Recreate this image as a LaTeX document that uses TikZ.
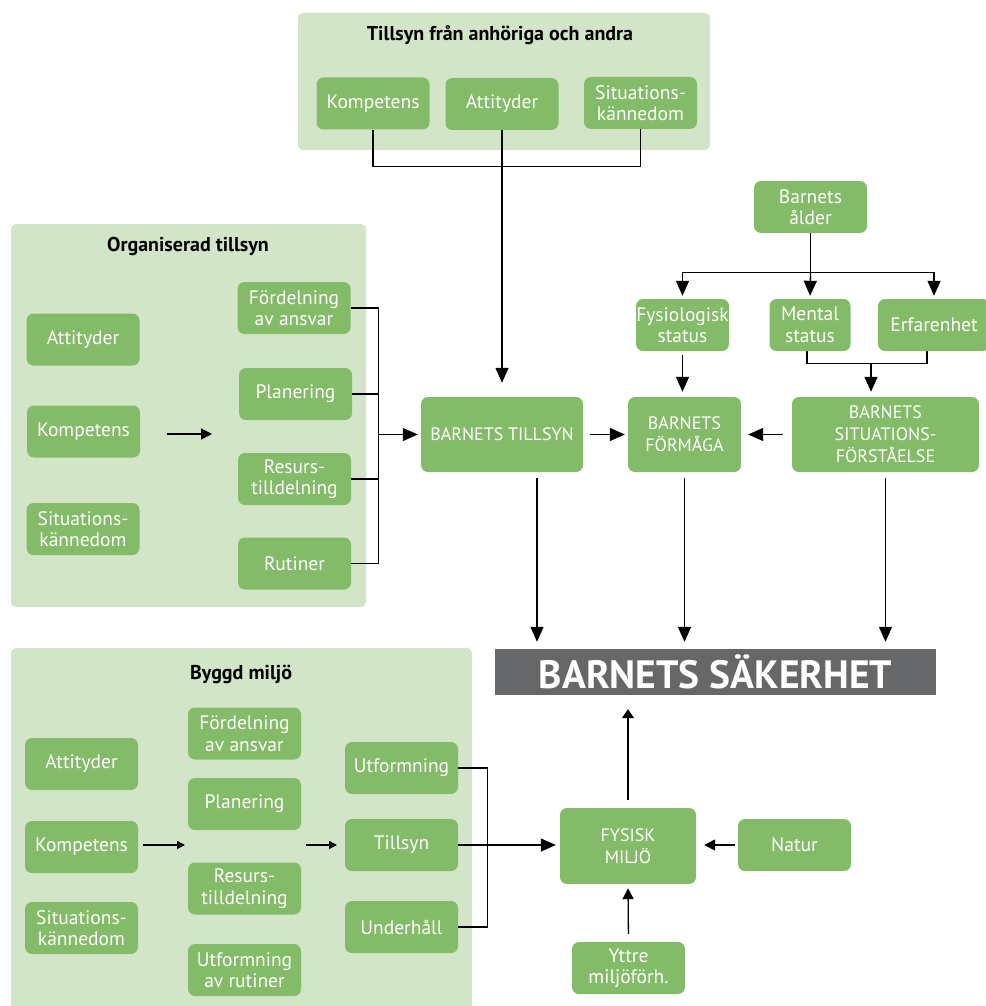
\documentclass[tikz,border=0pt]{standalone}
\usepackage{fontspec}
\setmainfont{PT Sans}
\usetikzlibrary{arrows.meta}
\definecolor{panelg}{HTML}{D2E5C8}
\definecolor{boxg}{HTML}{84BB68}
\definecolor{barg}{HTML}{666768}
\begin{document}
\begin{tikzpicture}[x=1pt,y=-1pt,
 panel/.style={fill=panelg, rounded corners=5pt, inner sep=0pt},
 box/.style={fill=boxg, rounded corners=7pt, text=white, align=center, inner sep=0pt,
   minimum width=113pt, minimum height=52pt, font=\fontsize{19.5}{21.5}\selectfont},
 capbox/.style={box, font=\fontsize{18}{22}\selectfont},
 ptitle/.style={font=\bfseries\fontsize{20}{22}\selectfont},
 ln/.style={line width=1.3pt},
 big/.style={ln, -{Triangle[length=15pt,width=13pt]}},
 mid/.style={ln, -{Triangle[length=11pt,width=11pt]}},
 sm/.style={ln, -{Triangle[length=8pt,width=8pt]}},
]
\useasboundingbox (0,0) rectangle (985,1006);

% panels
\fill[panelg, rounded corners=5pt] (298,13) rectangle (710,150);
\fill[panelg, rounded corners=5pt] (11,224) rectangle (366,607);
\fill[panelg, rounded corners=5pt] (11,648) rectangle (472,1020);

% top panel
\node[ptitle] (ttitle) at (500,35) {Tillsyn från anhöriga och andra};
\node[box] (tk) at (373,103.5) {Kompetens};
\node[box] (ta) at (502,104) {Attityder};
\node[box] (ts) at (640.5,103) {Situations-\\kännedom};

% left panel
\node[ptitle] (otitle) at (188,246) {Organiserad tillsyn};
\node[box] (oa) at (83,339.5) {Attityder};
\node[box] (ok) at (83.5,431.5) {Kompetens};
\node[box] (os) at (83,529) {Situations-\\kännedom};
\node[box] (of) at (294,308) {Fördelning\\av ansvar};
\node[box] (op) at (295.5,394) {Planering};
\node[box] (ores) at (294.5,479) {Resurs-\\tilldelning};
\node[box] (ort) at (294.5,563.5) {Rutiner};
\coordinate (la1) at (167,434);
\coordinate (la2) at (212,434);

% centre row
\node[capbox, minimum width=162pt, minimum height=75pt] (tillsyn) at (502,434.5) {BARNETS TILLSYN};
\node[capbox, minimum width=113pt, minimum height=75pt] (formaga) at (684.5,434.5) {BARNETS\\FÖRMÅGA};
\node[capbox, minimum width=187pt, minimum height=75pt] (situ) at (885.5,434.5) {BARNETS\\SITUATIONS-\\FÖRSTÅELSE};

% right top
\node[box] (alder) at (810.5,207) {Barnets\\ålder};
\node[box, minimum width=93pt] (fys) at (682.5,325) {Fysiologisk\\status};
\node[box, minimum width=81pt] (mental) at (810,325) {Mental\\status};
\node[box, minimum width=112pt] (erf) at (934,325) {Erfarenhet};

% safety bar
\node[fill=barg, minimum width=441pt, minimum height=46pt, inner sep=0pt, text=white,
  font=\bfseries\fontsize{39.5}{42}\selectfont] (sak) at (715.5,672) {BARNETS SÄKERHET};

% physical env
\node[capbox, minimum width=136pt, minimum height=76pt] (fysisk) at (628,846) {FYSISK\\MILJÖ};
\node[box] (natur) at (794.5,845) {Natur};
\node[box] (yttre) at (628.5,968) {Yttre\\miljöförh.};

% bottom panel
\node[ptitle] (btitle) at (241,674) {Byggd miljö};
\node[box] (ba) at (81.5,764) {Attityder};
\node[box] (bk) at (81.5,847) {Kompetens};
\node[box] (bs) at (81.5,928) {Situations-\\kännedom};
\node[box] (bf) at (244.5,733.5) {Fördelning\\av ansvar};
\node[box] (bp) at (244.5,804) {Planering};
\node[box] (br) at (244.5,888.5) {Resurs-\\tilldelning};
\node[box] (bu) at (244.5,970) {Utformning\\av rutiner};
\node[box] (bU) at (401.5,768) {Utformning};
\node[box] (bT) at (401.5,845) {Tillsyn};
\node[box] (bH) at (401.5,927) {Underhåll};
\coordinate (ba1) at (143,845);
\coordinate (ba2) at (185,845);
\coordinate (ba3) at (306,845);
\coordinate (ba4) at (337,845);

% connectors: top panel
\draw[ln] (tk.south) -- ++(0,36.5) -| (ts.south);
\draw[big, shorten >=14pt] (ta.south) -- (ta.south |- tillsyn.north);

% connectors: left panel
\draw[mid] (la1) -- (la2);
\draw[ln] (of.east) -- ++(28,0) coordinate (ob) |- (ort.east);
\draw[ln] (op.east) -- (op.east -| ob);
\draw[ln] (ores.east) -- (ores.east -| ob);
\draw[big, shorten >=3pt] (ob |- tillsyn.west) -- (tillsyn.west);

% centre row
\draw[big, shorten <=7pt, shorten >=3pt] (tillsyn.east) -- (formaga.west);
\draw[big, shorten <=9pt, shorten >=7pt] (situ.west) -- (formaga.east);

% age
\draw[ln] (alder.south) -- ++(0,39) coordinate (aj);
\draw[big, shorten >=3pt] (aj) -| (fys.north);
\draw[big, shorten >=3pt] (aj) -| (erf.north);
\draw[big, shorten >=3pt] (aj) -- (mental.north);
\draw[big, shorten <=4pt, shorten >=5pt] (fys.south) -- (fys.south |- formaga.north);
\draw[ln] ([xshift=-3pt]mental.south) -- ++(0,12) coordinate (mj0) -| ([xshift=-7pt]erf.south);
\coordinate (mj) at (871,363);
\draw[big, shorten >=5pt] (mj) -- (mj |- situ.north);

% into safety
\draw[big, shorten <=6pt, shorten >=7pt] ([xshift=35pt]tillsyn.south) -- ([xshift=35pt]tillsyn.south |- sak.north);
\draw[big, shorten <=6pt, shorten >=7pt] (formaga.south) -- (formaga.south |- sak.north);
\draw[big, shorten <=6pt, shorten >=7pt] (situ.south) -- (situ.south |- sak.north);

% physical environment
\draw[ln, -{Triangle[length=9pt,width=12pt]}, shorten <=8pt, shorten >=14pt] (fysisk.north) -- (fysisk.north |- sak.south);
\draw[mid, shorten <=3pt, shorten >=8pt] (natur.west) -- (natur.west -| fysisk.east);
\draw[mid, shorten <=8pt, shorten >=4pt] (yttre.north) -- (fysisk.south);

% bottom panel
\draw[sm] (ba1) -- (ba2);
\draw[sm] (ba3) -- (ba4);
\draw[ln] (bU.east) -- ++(29,0) coordinate (bb) |- (bH.east);
\draw[big, shorten >=4pt] (bT.east) -- (bT.east -| fysisk.west);
\end{tikzpicture}
\end{document}
